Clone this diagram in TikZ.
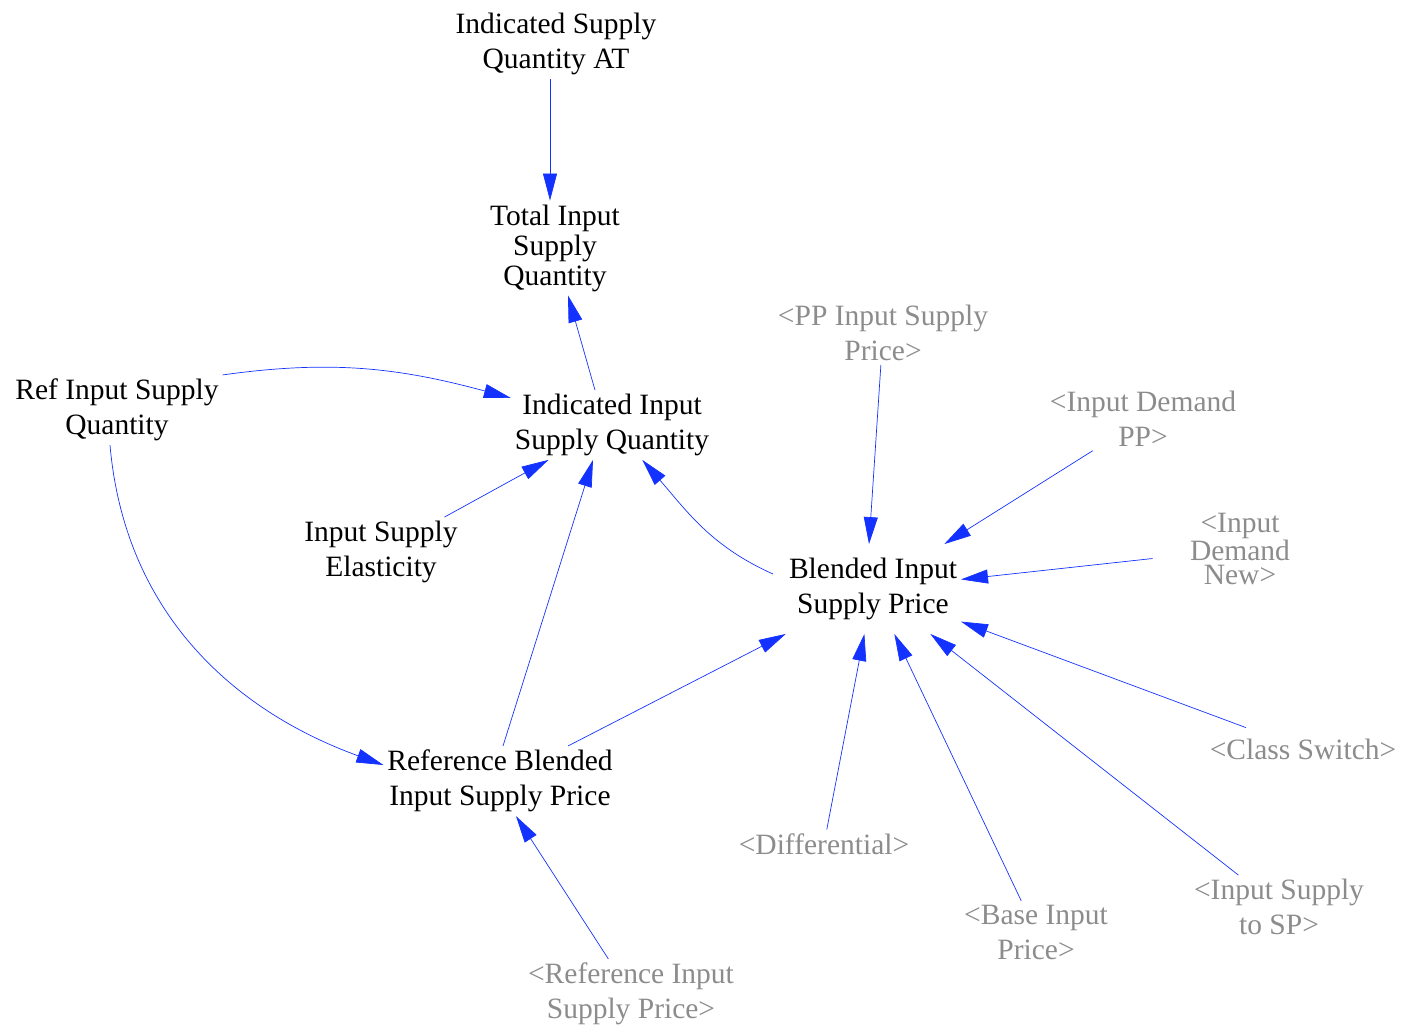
\documentclass[tikz,border=0pt]{standalone}
\usepackage{fontspec}
\setmainfont{Liberation Serif}
\usetikzlibrary{arrows.meta}
\definecolor{linkblue}{RGB}{20,50,255}
\definecolor{shadowgrey}{RGB}{140,140,140}
\begin{document}
\begin{tikzpicture}[x=1pt,y=1pt,
  var/.style={align=center,font=\fontsize{29.5}{35}\selectfont,inner sep=4pt,outer sep=0pt},
  shadow/.style={var,text=shadowgrey},
  link/.style={draw=linkblue,line width=0.7pt,-{Triangle[length=27pt,width=14pt]}},
]
\useasboundingbox (0,0) rectangle (1403,-1029);

\node[var] (at) at (556,-44) {Indicated Supply\\Quantity AT};
\node[var,font=\fontsize{29.5}{30}\selectfont] (total) at (555,-248) {Total Input\\Supply\\Quantity};
\node[var] (ind) at (612,-425) {Indicated Input\\Supply Quantity};
\node[var] (ref) at (117,-410) {Ref Input Supply\\Quantity};
\node[var] (elas) at (381,-552) {Input Supply\\Elasticity};
\node[var,inner ysep=14pt] (blend) at (873,-589) {Blended Input\\Supply Price};
\node[var] (refb) at (500,-781) {Reference Blended\\Input Supply Price};

\node[shadow] (pp) at (883,-333) {<PP Input Supply\\Price>};
\node[shadow] (idpp) at (1143,-419) {<Input Demand\\PP>};
\node[shadow,font=\fontsize{29.5}{24.5}\selectfont,minimum width=175pt] (idnew) at (1240,-549) {<Input\\Demand\\New>};
\node[shadow] (cls) at (1303,-749) {<Class Switch>};
\node[shadow] (diff) at (824,-844) {<Differential>};
\node[shadow] (base) at (1036,-932) {<Base Input\\Price>};
\node[shadow] (tosp) at (1279,-907) {<Input Supply\\to SP>};
\node[shadow] (refp) at (631,-994) {<Reference Input\\Supply Price>};

\draw[link] ([xshift=-6pt]at.south) -- ([xshift=-5pt]total.north);
\draw[link] ([xshift=-17pt]ind.north) -- ([xshift=13pt]total.south);
\draw[link] (ref.north east) to[out=8,in=165] (ind);
\draw[link] (elas) -- (ind);
\draw[link] ([xshift=3pt]refb.north) -- ([xshift=-19pt]ind.south);
\draw[link] ([xshift=-12pt,yshift=15pt]blend.west) to[out=156,in=-49] (ind);
\draw[link] ([xshift=-7pt]ref.south) to[out=-85,in=160] ([yshift=16pt]refb.west);
\draw[link] (refb) -- (blend);
\draw[link] (refp) -- ([xshift=16pt]refb.south);
\draw[link] (pp) -- ([xshift=-4pt]blend.north);
\draw[link] (idpp) -- (blend);
\draw[link] (idnew) -- (blend);
\draw[link] ([xshift=-57pt,yshift=7pt]cls.north) -- (blend);
\draw[link] (tosp) -- (blend);
\draw[link] (base) -- (blend);
\draw[link] (diff) -- (blend);
\end{tikzpicture}
\end{document}
